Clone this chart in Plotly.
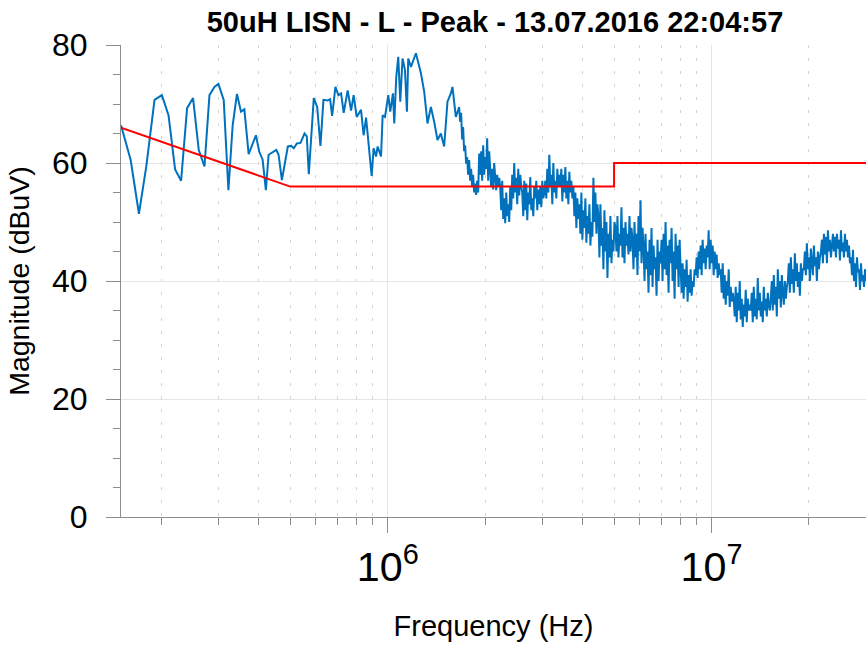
import numpy as np
import plotly.graph_objects as go

# Low-frequency part of the peak sweep: vertices (kHz, dBuV)
low_freq_khz = [150, 160.7, 170.4, 179.5, 190.4, 200.6, 210.3, 220.4, 230.0, 240.0,
                250.4, 260.8, 271.6, 281.4, 291.5, 299.9, 311.4, 322.0, 331.9, 342.2,
                352.1, 360.7, 371.8, 391.5, 401.1, 410.6, 420.3, 428.5, 452.6, 460.0,
                471.0, 491.4, 503.4, 512.8, 523.8, 537.7, 553.3, 562.3, 570.4, 590.9,
                605.3, 619.6, 633.0, 652.6, 663.8, 673.3, 689.3, 704.1, 717.7, 731.0,
                752.0, 770.4, 784.7, 801.6, 826.9, 842.3, 857.1, 873.0, 891.9, 904.5,
                920.1, 930.5, 953.3, 964.3, 980.6, 1003.7, 1018.0, 1037.7, 1047.4, 1062.4,
                1077.6, 1093.0, 1111.0, 1130.1, 1146.1, 1156.8, 1179.3, 1201.3, 1221.9, 1266.0,
                1295.8, 1326.6, 1359.1, 1391.3, 1424.3, 1458.8, 1493.6, 1529.1, 1566.3, 1584.4,
                1622.9, 1661.5]
low_db = [66.4, 60.5, 51.4, 59.4, 70.7, 71.5, 68.1, 58.9, 57.0, 69.3,
          71.0, 62.2, 59.4, 71.5, 72.9, 73.4, 70.7, 55.4, 66.4, 71.7,
          68.7, 69.1, 61.5, 64.7, 61.9, 60.6, 55.4, 61.4, 62.2, 61.4,
          57.1, 62.8, 62.9, 62.5, 63.3, 63.4, 65.0, 64.5, 58.1, 71.0,
          69.5, 62.9, 70.7, 70.6, 70.8, 68.0, 72.9, 71.5, 71.8, 68.5,
          72.3, 68.9, 71.5, 67.8, 69.0, 64.7, 67.7, 62.5, 57.8, 62.5,
          61.1, 62.8, 61.1, 68.1, 67.8, 71.5, 68.7, 71.8, 66.7, 74.6,
          78.0, 70.4, 77.7, 75.8, 68.7, 77.7, 76.3, 77.5, 78.6, 75.2,
          72.1, 66.7, 69.5, 67.0, 63.9, 65.0, 62.8, 70.4, 71.8, 72.9,
          67.8, 69.5]

# Dense part of the sweep (1.673 MHz .. 30 MHz), readings on the analyser's log sweep grid
dense_start_hz = 1.673e6
dense_stop_hz = 30e6
dense_db = [
    67, 68.5, 64, 66.1, 62, 63, 59.9, 61, 58, 60.5,
    57, 59, 56, 58, 55, 56.5, 54.6, 57, 55, 61.6,
    58, 62, 57, 63, 58, 61, 59, 64.2, 57, 62,
    58, 56, 59, 55.5, 60, 57, 55.4, 58, 56, 57.5,
    56, 52, 57, 50.5, 54, 49.8, 55, 51, 53, 50, 56, 52,
    58, 54, 60, 55, 57.5, 53, 59, 54.5, 58, 56,
    55, 51, 57, 52, 56.5, 50.3, 55, 53, 57.6, 52, 54, 51, 56,
    54, 57, 52, 55.5, 53, 56, 52.5, 57, 54, 55,
    57, 54, 59, 55, 61.4, 56, 58, 53, 60, 55, 57, 54, 59, 56, 58,
    56, 59, 53.5, 58, 55, 59.3, 54, 57, 53, 58.5, 55, 57, 54,
    56, 51, 55, 49, 54, 50.5, 53, 48, 55, 47, 52, 49, 54, 46.5, 51, 48, 53, 46, 50, 47.5,
    57.5, 50, 55, 48, 53,
    51, 44, 53, 46, 49, 42, 52, 45, 50, 40.5, 48, 44, 51, 43, 47, 45, 50,
    49, 45, 51, 44, 48, 46, 52.5, 44, 49, 43, 50, 46, 48, 44.5, 51, 45, 49,
    47, 42, 50, 44, 48, 41, 51, 45, 53.7, 43, 49,
    46, 40, 48, 42, 45, 38, 47, 41, 49, 39, 46, 42, 44, 37.5, 47, 40, 45,
    43, 47, 40, 48, 42, 50, 41, 46, 38, 47, 43, 49, 40, 45, 37, 48, 42, 46, 39, 47,
    41, 38, 43, 37, 42, 39, 43.6, 36.5, 41, 38, 42, 37.5, 40, 39, 42,
    41, 44, 40.5, 45, 42, 46, 41, 47, 43, 45.5, 42, 46, 44, 48.6, 42, 47, 43, 46, 41, 45, 42, 44.5, 40.5, 43, 41,
    42, 38, 43, 37, 41, 36, 40, 37.5, 42, 35.6, 39, 36.5, 38,
    37, 34, 39, 33, 38, 35, 40, 33.5, 37, 32.2, 36, 34, 38.5, 33, 37, 35, 36,
    35, 38, 33, 39, 34, 37, 33.5, 40.5, 35, 38, 34, 36.5, 33, 39, 35, 37, 34, 38, 36, 35,
    37, 40, 35, 41, 36, 39, 34, 42, 37, 40, 35.5, 41, 38, 36, 40, 37, 39,
    40, 43, 38, 44, 39.5, 42, 38, 44.7, 40, 43, 39, 41.5, 37.5, 43, 40, 42,
    42, 45, 41, 46.4, 42, 44, 40, 45.5, 43, 41, 46, 42.5, 44, 40, 45, 42, 44,
    45, 47, 43, 48, 44.5, 47.5, 43, 48.6, 45, 47, 44, 46, 48,
    45, 47.5, 44, 48, 45.5, 47, 43.5, 48.6, 45, 46.5, 44, 48, 45, 47, 44, 46, 43,
    44, 41, 45.3, 40, 43, 39, 44, 41.5, 42, 38.5, 43, 40, 41, 39, 42, 40,
]

# EN55022 class B limit line
limit_freq_hz = [150e3, 500e3, 5e6, 5e6, 30e6]
limit_db = [66, 56, 56, 60, 60]

dense_freq_hz = np.geomspace(dense_start_hz, dense_stop_hz, len(dense_db))
meas_freq = list(np.array(low_freq_khz) * 1e3) + list(dense_freq_hz)
meas_db = low_db + dense_db

FONT = "Liberation Sans, Arial, sans-serif"
AX = "#8c8c8c"
W, H = 866, 645

fig = go.Figure()
fig.add_trace(go.Scatter(x=meas_freq, y=meas_db, mode="lines",
                         line=dict(color="#0072BD", width=2), showlegend=False))
fig.add_trace(go.Scatter(x=limit_freq_hz, y=limit_db, mode="lines",
                         line=dict(color="#FF0000", width=2), showlegend=False))

fig.update_layout(
    width=W, height=H,
    margin=dict(l=121, r=0, t=45, b=128),
    paper_bgcolor="white", plot_bgcolor="white",
    font=dict(family=FONT, color="black"),
    title=dict(text="<b>50uH LISN - L - Peak - 13.07.2016 22:04:57</b>",
               x=495 / W, xanchor="center", y=1 - 22 / H, yanchor="middle",
               font=dict(size=29, family=FONT, color="black")),
    xaxis=dict(type="log", range=[np.log10(150e3), np.log10(30e6)],
               dtick=1, tick0=0, exponentformat="power", showexponent="all",
               ticks="outside", ticklen=15, tickcolor=AX, tickwidth=1,
               showline=True, linecolor=AX, linewidth=1,
               showgrid=True, gridcolor="#e6e6e6", zeroline=False,
               tickfont=dict(size=33, family=FONT, color="black"),
               minor=dict(dtick="D1", ticks="outside", ticklen=7, tickcolor=AX,
                          showgrid=True, gridcolor="#d2d2d2", griddash="3px,10px"),
               title=dict(text="Frequency (Hz)", font=dict(size=29, family=FONT),
                          standoff=26),
               automargin=False),
    yaxis=dict(range=[0, 80], dtick=20, tick0=0,
               ticks="outside", ticklen=14, tickcolor=AX, tickwidth=1,
               ticklabelstandoff=12,
               showline=True, linecolor=AX, linewidth=1,
               showgrid=True, gridcolor="#e6e6e6", zeroline=False,
               tickfont=dict(size=32, family=FONT, color="black"),
               minor=dict(dtick=5, ticks="outside", ticklen=7, tickcolor=AX,
                          showgrid=False),
               title=dict(text="Magnitude (dBuV)", font=dict(size=28.5, family=FONT),
                          standoff=14),
               automargin=False),
)

fig.write_html("out.html",
               config={"displayModeBar": False},
               post_script="document.body.style.margin='0';"
                           "document.body.style.overflow='hidden';")
